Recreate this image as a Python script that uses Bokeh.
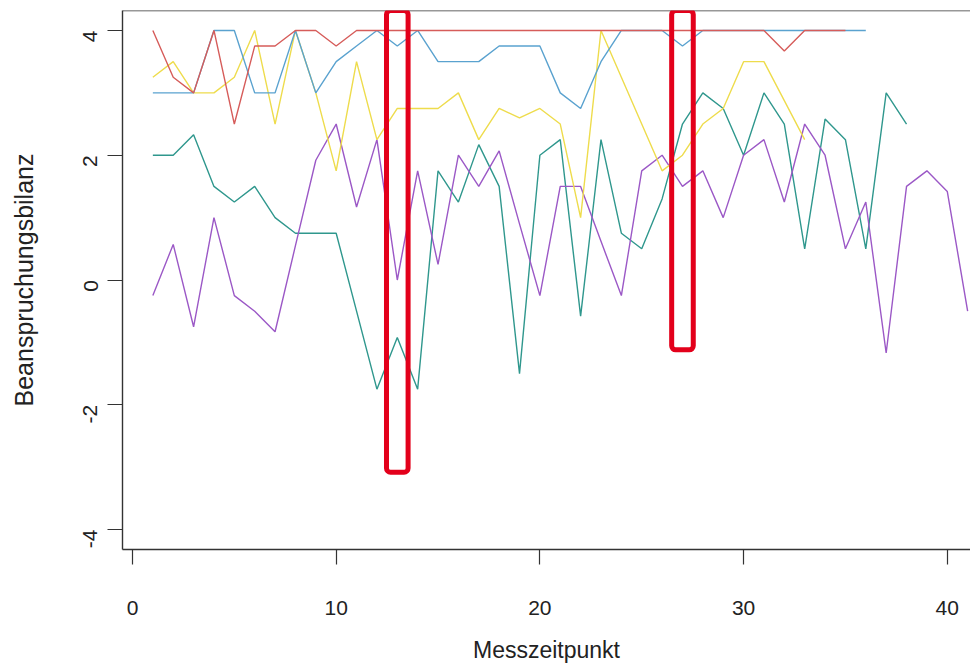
import math
from bokeh.plotting import figure
from bokeh.models import Range1d, BoxAnnotation, Span, FixedTicker
from bokeh.embed import file_html
from bokeh.resources import INLINE

# ---- data ----
red = [4, 3.25, 3, 4, 2.5, 3.75, 3.75, 4, 4, 3.75,
       4, 4, 4, 4, 4, 4, 4, 4, 4, 4,
       4, 4, 4, 4, 4, 4, 4, 4, 4, 4,
       4, 3.67, 4, 4, 4]
blue = [3, 3, 3, 4, 4, 3, 3, 4, 3, 3.5,
        3.75, 4, 3.75, 4, 3.5, 3.5, 3.5, 3.75, 3.75, 3.75,
        3, 2.75, 3.5, 4, 4, 4, 3.75, 4, 4, 4,
        4, 4, 4, 4, 4, 4]
yellow = [3.25, 3.5, 3, 3, 3.25, 4, 2.5, 4, 3, 1.75,
          3.5, 2.25, 2.75, 2.75, 2.75, 3, 2.25, 2.75, 2.6, 2.75,
          2.5, 1, 4, 3.25, 2.5, 1.75, 2, 2.5, 2.75, 3.5,
          3.5, 2.875, 2.25]
teal = [2, 2, 2.33, 1.5, 1.25, 1.5, 1, 0.75, 0.75, 0.75,
        -0.5, -1.75, -0.92, -1.75, 1.75, 1.25, 2.17, 1.5, -1.5, 2,
        2.25, -0.58, 2.25, 0.75, 0.5, 1.3, 2.5, 3, 2.75, 2,
        3, 2.5, 0.5, 2.58, 2.25, 0.5, 3, 2.5]
purple = [-0.25, 0.57, -0.75, 1, -0.25, -0.5, -0.83, 0.55, 1.92, 2.5,
          1.17, 2.25, 0, 1.75, 0.25, 2, 1.5, 2.07, 0.9, -0.25,
          1.5, 1.5, 0.62, -0.25, 1.75, 2, 1.5, 1.75, 1, 2,
          2.25, 1.25, 2.5, 2, 0.5, 1.25, -1.17, 1.5, 1.75, 1.42,
          -0.5]

x_ticks = [0, 10, 20, 30, 40]
y_ticks = [-4, -2, 0, 2, 4]

highlight_points = [13, 27]
highlight_bottoms = [-3.08, -1.12]

series = [
    (teal, "#2f978d"),
    (purple, "#9b58c6"),
    (yellow, "#eedc4c"),
    (blue, "#5aa2cf"),
    (red, "#d65c5a"),
]

# ---- figure ----
Y_TOP = 4.32
p = figure(width=970, height=667, output_backend="svg", toolbar_location=None,
           x_range=Range1d(-0.49, 41.14), y_range=Range1d(-Y_TOP, Y_TOP),
           min_border_left=122, min_border_right=0, min_border_top=10,
           min_border_bottom=118)
p.grid.visible = False
p.outline_line_color = None
p.background_fill_color = "white"
p.border_fill_color = "white"

FONT = "Liberation Sans"
for ax in (p.xaxis[0], p.yaxis[0]):
    ax.axis_line_color = "#333333"
    ax.axis_line_width = 1.4
    ax.major_tick_line_color = "#333333"
    ax.major_tick_line_width = 1.2
    ax.major_tick_in = 0
    ax.major_tick_out = 15
    ax.minor_tick_line_color = None
    ax.major_label_text_font = FONT
    ax.major_label_text_font_size = "21px"
    ax.major_label_text_color = "#222222"
    ax.axis_label_text_font = FONT
    ax.axis_label_text_font_style = "normal"
    ax.axis_label_text_color = "#222222"

p.xaxis[0].ticker = FixedTicker(ticks=x_ticks)
p.xaxis[0].major_label_overrides = {t: str(t) for t in x_ticks}
p.xaxis[0].major_label_standoff = 36
p.xaxis[0].axis_label = "Messzeitpunkt"
p.xaxis[0].axis_label_text_font_size = "23px"
p.xaxis[0].axis_label_standoff = 19

p.yaxis[0].ticker = FixedTicker(ticks=y_ticks)
p.yaxis[0].major_label_overrides = {t: str(t) for t in y_ticks}
p.yaxis[0].major_label_orientation = math.pi / 2
p.yaxis[0].major_label_standoff = 17
p.yaxis[0].axis_label = "Beanspruchungsbilanz"
p.yaxis[0].axis_label_text_font_size = "25px"
p.yaxis[0].axis_label_standoff = 36

# top border of the box
p.add_layout(Span(location=Y_TOP, dimension="width", line_color="#333333", line_width=1.6))

for ys, col in series:
    xs = list(range(1, len(ys) + 1))
    p.line(xs, ys, line_color=col, line_width=1.4)

for hx, hb in zip(highlight_points, highlight_bottoms):
    p.add_layout(BoxAnnotation(left=hx - 0.53, right=hx + 0.53, bottom=hb, top=Y_TOP,
                               fill_alpha=0, line_color="#e3001b", line_alpha=1.0,
                               line_width=5, border_radius=4))

open("out.html", "w").write(file_html(p, INLINE))
